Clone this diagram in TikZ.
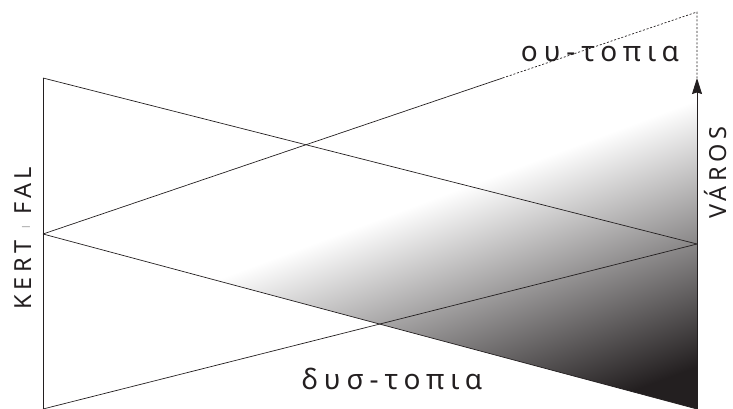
\documentclass[tikz,border=0pt]{standalone}
\usepackage{fontspec}
\setmainfont{Noto Sans}
\newfontfamily\grk[LetterSpace=21]{Noto Sans}
\newfontfamily\caps[LetterSpace=19]{Noto Sans}
\usetikzlibrary{arrows.meta}
\definecolor{ink}{RGB}{35,31,32}
\pgfdeclarehorizontalshading{grad}{1400pt}{color(0pt)=(white); color(250pt)=(ink); color(700pt)=(ink)}
\tikzset{
  thin line/.style={draw=ink, line width=0.7pt},
  dot line/.style={draw=ink, line width=0.7pt, dash pattern=on 2pt off 1.8pt},
  greek/.style={text=ink, font=\grk\fontsize{28pt}{30pt}\selectfont, inner sep=0pt},
  capslbl/.style={text=ink, font=\caps\fontsize{23.5pt}{26pt}\selectfont, inner sep=0pt, rotate=90, anchor=base},
}
\begin{document}
\begin{tikzpicture}[x=1pt,y=-1pt]
\useasboundingbox (0,0) rectangle (733,409);
% key points
\coordinate (A) at (43,78);
\coordinate (M) at (43,234);
\coordinate (B) at (43,409);
\coordinate (RT) at (697,12);
\coordinate (T) at (697,78);
\coordinate (RM) at (697,244);
\coordinate (RB) at (697,409);
\coordinate (P) at (intersection of M--RT and A--T);
% gradient
\begin{scope}
  \clip (M) -- (RB) -- (T) -- (A) -- cycle;
  \begin{scope}[shift={(215,280)}, rotate=-69.5]
    \pgftransformshift{\pgfqpoint{350pt}{0pt}}
    \pgflowlevelsynccm
    \pgfuseshading{grad}
  \end{scope}
\end{scope}
% lines
\draw[thin line] (A) -- (B);
\draw[thin line] (A) -- (RM);
\draw[thin line] (M) -- (RB);
\draw[thin line] (B) -- (RM);
\draw[thin line] (M) -- (P);
\draw[dot line] (P) -- (RT) -- (T);
\draw[draw=ink, line width=1pt, -{Stealth[length=16pt,width=10pt,inset=1.5pt]}] (RB) -- (T);
% labels
\node[greek, anchor=base] (ou) at (600,62) {ου-τοπια};
\node[greek, anchor=base] (dys) at (392,389) {δυσ-τοπια};
\node[capslbl] (kf) at (31,238) {KERT {\color{black!55}\raisebox{3pt}{\fontsize{8pt}{8pt}\selectfont |}} FAL};
\node[capslbl] (varos) at (726.5,173) {VÁROS};
\end{tikzpicture}
\end{document}
